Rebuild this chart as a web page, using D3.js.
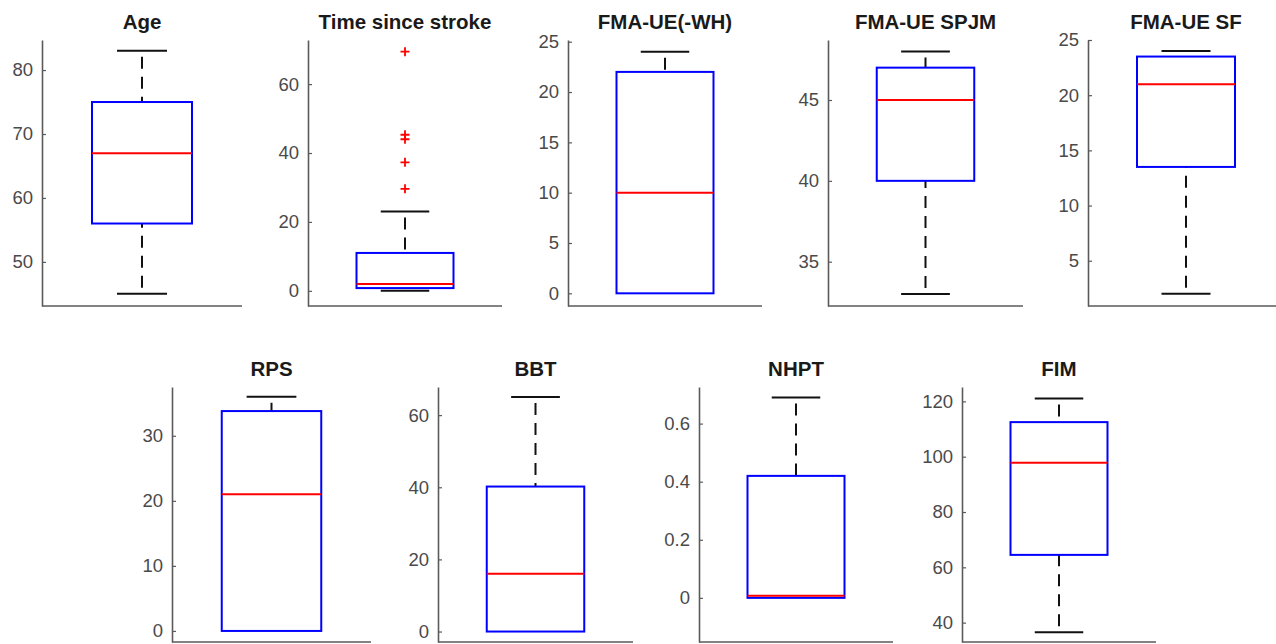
<!DOCTYPE html>
<html>
<head>
<meta charset="utf-8">
<script src="https://cdn.jsdelivr.net/npm/d3@7"></script>
<style>
  html, body { margin: 0; padding: 0; background: #ffffff; }
  svg { display: block; }
  text { font-family: "Liberation Sans", Arial, sans-serif; }
</style>
</head>
<body>
<svg id="chart" width="1276" height="644"></svg>
<script>
// ---------- data ----------
const titles = ["Age", "Time since stroke", "FMA-UE(-WH)", "FMA-UE SPJM", "FMA-UE SF",
                "RPS", "BBT", "NHPT", "FIM"];
const lowerWhisker = [45, 0, 0, 33, 2, 0, 0, 0, 36.5];
const q1Values     = [56, 0.8, 0, 40, 13.5, 0, 0, 0, 64.5];
const medians      = [67, 2, 10, 45, 21, 21, 16, 0.007, 97.8];
const q3Values     = [75, 11, 22, 47, 23.5, 33.8, 40.2, 0.42, 112.5];
const upperWhisker = [83, 23, 24, 48, 24, 36, 65, 0.69, 121];
const outliers     = [[], [29.6, 37.3, 44, 45.3, 69.4], [], [], [], [], [], [], []];
const yLow         = [43.1, -4.4, -1.26, 32.26, 0.9, -1.7, -2.9, -0.152, 33.0];
const yHigh        = [84.7, 72.8, 25.17, 48.71, 25.0, 37.5, 67.8, 0.726, 125.2];
const tickValues   = [[50, 60, 70, 80], [0, 20, 40, 60], [0, 5, 10, 15, 20, 25], [35, 40, 45],
                      [5, 10, 15, 20, 25], [0, 10, 20, 30], [0, 20, 40, 60],
                      [0, 0.2, 0.4, 0.6], [40, 60, 80, 100, 120]];

// ---------- layout (pixel placement of each axes) ----------
const panelLeft   = [42, 308, 568, 828, 1088, 172, 438, 699, 962];
const panelWidth  = [200, 194, 194, 195, 196, 199, 195, 194, 194];
const panelTop    = [40, 40, 40, 40, 40, 387, 387, 387, 387];
const panelBottom = [306, 306, 306, 306, 306, 642, 642, 642, 642];

const svg = d3.select("#chart");
const axisColor = "#5a5a5a";

titles.forEach((title, i) => {
  const x = d3.scaleLinear().domain([0.5, 1.5]).range([panelLeft[i], panelLeft[i] + panelWidth[i]]);
  const y = d3.scaleLinear().domain([yLow[i], yHigh[i]]).range([panelBottom[i], panelTop[i]]);
  const g = svg.append("g");

  // axes background
  g.append("rect")
    .attr("x", x(0.5)).attr("y", y(yHigh[i]))
    .attr("width", x(1.5) - x(0.5)).attr("height", y(yLow[i]) - y(yHigh[i]))
    .attr("fill", "#ffffff");

  // y axis
  const ax = g.append("g")
    .attr("transform", `translate(${x(0.5)},0)`)
    .call(d3.axisLeft(y).tickValues(tickValues[i]).tickSizeInner(-4).tickSizeOuter(0)
      .tickPadding(9).tickFormat(d3.format("~g")));
  ax.select(".domain").attr("stroke", axisColor).attr("stroke-width", 1.6);
  ax.selectAll(".tick line").attr("stroke", axisColor).attr("stroke-width", 1.2);
  ax.selectAll(".tick text")
    .attr("fill", "#4a4a4a")
    .style("font-size", "18.5px")
    .style("font-family", "'Liberation Sans', Arial, sans-serif");

  // bottom axis line (no ticks)
  g.append("line")
    .attr("x1", x(0.5)).attr("x2", x(1.5))
    .attr("y1", y(yLow[i])).attr("y2", y(yLow[i]))
    .attr("stroke", axisColor).attr("stroke-width", 1.6);

  // title
  g.append("text")
    .attr("x", x(1)).attr("y", panelTop[i] - 11)
    .attr("text-anchor", "middle")
    .attr("fill", "#1a1a1a")
    .style("font-size", "20.5px").style("font-weight", "bold")
    .text(title);

  // whiskers (dashed)
  if (upperWhisker[i] !== q3Values[i]) {
    g.append("line")
      .attr("x1", x(1)).attr("x2", x(1))
      .attr("y1", y(upperWhisker[i])).attr("y2", y(q3Values[i]))
      .attr("stroke", "#111").attr("stroke-width", 2).attr("stroke-dasharray", "12,8")
      .attr("stroke-dashoffset", -6);
  }
  if (lowerWhisker[i] !== q1Values[i]) {
    g.append("line")
      .attr("x1", x(1)).attr("x2", x(1))
      .attr("y1", y(lowerWhisker[i])).attr("y2", y(q1Values[i]))
      .attr("stroke", "#111").attr("stroke-width", 2).attr("stroke-dasharray", "12,8")
      .attr("stroke-dashoffset", -6);
  }

  // caps (hidden when they coincide with the box edge)
  [[upperWhisker[i], q3Values[i]], [lowerWhisker[i], q1Values[i]]].forEach(([v, edge]) => {
    if (v === edge) return;
    g.append("line")
      .attr("x1", x(0.875)).attr("x2", x(1.125))
      .attr("y1", y(v)).attr("y2", y(v))
      .attr("stroke", "#111").attr("stroke-width", 2);
  });

  // box
  g.append("rect")
    .attr("x", x(0.75)).attr("y", y(q3Values[i]))
    .attr("width", x(1.25) - x(0.75))
    .attr("height", Math.max(0, y(q1Values[i]) - y(q3Values[i])))
    .attr("fill", "none").attr("stroke", "#0000ff").attr("stroke-width", 2);

  // median
  g.append("line")
    .attr("x1", x(0.75)).attr("x2", x(1.25))
    .attr("y1", y(medians[i])).attr("y2", y(medians[i]))
    .attr("stroke", "#ff0000").attr("stroke-width", 2);

  // outliers
  const s = 4.5;
  outliers[i].forEach(v => {
    g.append("path")
      .attr("d", `M${x(1) - s},${y(v)}H${x(1) + s}M${x(1)},${y(v) - s}V${y(v) + s}`)
      .attr("stroke", "#ff0000").attr("stroke-width", 1.8).attr("fill", "none");
  });
});
</script>
</body>
</html>
